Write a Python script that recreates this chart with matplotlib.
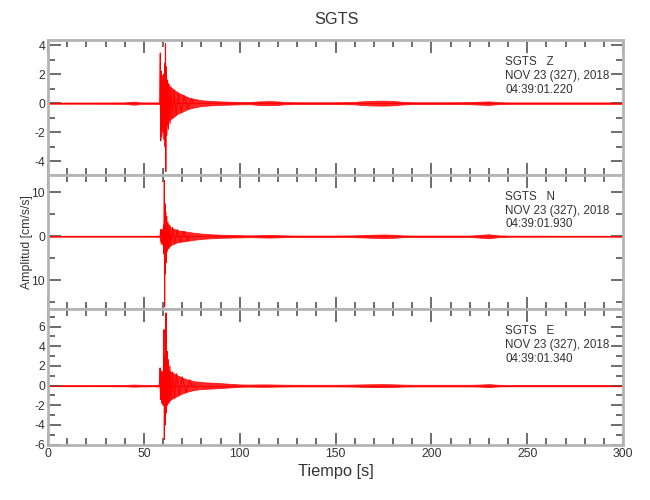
import matplotlib
matplotlib.use('Agg')
import matplotlib.pyplot as plt
from matplotlib import font_manager
from matplotlib.ticker import MultipleLocator, FixedLocator, FixedFormatter

# narrow face if available, otherwise plain Liberation Sans at a smaller size
installed = {f.name for f in font_manager.fontManager.ttflist}
if 'Liberation Sans Narrow' in installed:
    plt.rcParams['font.family'] = ['Liberation Sans Narrow', 'DejaVu Sans']
    fs = 1.0
else:
    plt.rcParams['font.family'] = ['Liberation Sans', 'DejaVu Sans']
    fs = 0.84
plt.rcParams['axes.unicode_minus'] = False

station = 'SGTS'
components = ['Z', 'N', 'E']
date_line = 'NOV 23 (327), 2018'
start_times = ['04:39:01.220', '04:39:01.930', '04:39:01.340']

# background / coda envelope (half amplitude)
env_t = [0, 20, 40, 44, 46, 48, 55, 58.3, 58.5, 60, 61, 62, 63, 64, 66, 68, 70,
         73, 76, 80, 85, 90, 95, 100, 105, 108, 110, 115, 120, 123, 130, 150,
         160, 163, 170, 175, 180, 185, 190, 210, 220, 225, 230, 235, 240, 270, 300]
env_z = [0.04, 0.04, 0.05, 0.1, 0.1, 0.05, 0.05, 0.05, 1.8, 2.0, 1.8, 1.5, 1.2, 1.1, 0.9, 0.7, 0.6,
         0.4, 0.3, 0.2, 0.15, 0.12, 0.1, 0.08, 0.07, 0.1, 0.12, 0.14, 0.12, 0.08, 0.06, 0.06,
         0.08, 0.12, 0.16, 0.17, 0.15, 0.09, 0.06, 0.06, 0.07, 0.1, 0.12, 0.07, 0.05, 0.05, 0.05]
env_n = [0.1, 0.1, 0.1, 0.1, 0.1, 0.1, 0.1, 0.15, 1.0, 1.5, 3.5, 3.0, 2.5, 2.0, 1.6, 1.3, 1.2,
         1.0, 0.8, 0.6, 0.45, 0.35, 0.3, 0.25, 0.2, 0.22, 0.25, 0.3, 0.25, 0.2, 0.15, 0.15,
         0.2, 0.25, 0.35, 0.4, 0.35, 0.2, 0.15, 0.15, 0.15, 0.3, 0.45, 0.2, 0.12, 0.1, 0.1]
env_e = [0.05, 0.05, 0.06, 0.1, 0.1, 0.08, 0.06, 0.1, 1.2, 1.5, 2.0, 1.8, 1.6, 1.4, 1.2, 1.0, 0.8,
         0.6, 0.45, 0.35, 0.3, 0.25, 0.18, 0.12, 0.1, 0.11, 0.12, 0.12, 0.1, 0.09, 0.08, 0.08,
         0.1, 0.12, 0.14, 0.15, 0.13, 0.1, 0.08, 0.08, 0.08, 0.1, 0.15, 0.08, 0.06, 0.06, 0.06]

# individual peaks around the onset
spk_t_z = [58.3, 58.6, 58.8, 59.0, 59.3, 59.6, 60.0, 60.4, 60.6, 60.9, 61.1, 61.3, 61.45,
           61.7, 62.0, 62.4, 62.8, 63.2, 63.7, 64.2, 65.0, 65.8, 66.8, 68.0, 69.5, 71.0, 73.0, 75.0, 76.0]
spk_v_z = [0, 3.45, -2.6, 2.2, -2.3, 1.8, -1.9, 2.0, -2.5, 2.75, -3.0, 4.1, -4.7,
           2.5, -2.2, 1.6, -1.8, 1.3, -1.4, 1.1, -1.0, 0.9, -0.8, 0.7, -0.6, 0.5, -0.4, 0.3, 0]
spk_t_n = [58.5, 58.8, 59.1, 59.5, 59.9, 60.3, 60.5, 60.7, 60.85, 61.0, 61.2, 61.4, 61.6,
           61.9, 62.2, 62.6, 63.0, 63.5, 64.0, 65.0, 66.0, 67.5, 69.0, 71.0, 73.0, 74.0]
spk_v_n = [0, 1.5, -1.8, 1.6, -2.0, 2.5, -4.0, 12.7, -16.0, 7.4, -8.5, 5.5, -6.0,
           4.5, -3.5, 3.2, -2.8, 2.5, -2.2, 2.0, -1.7, 1.5, -1.3, 1.1, -1.0, 0]
spk_t_e = [58.3, 58.5, 58.7, 59.0, 59.3, 59.7, 60.1, 60.5, 60.7, 61.0, 61.2, 61.6, 61.8,
           62.1, 62.4, 62.8, 63.2, 63.6, 64.2, 65.0, 66.0, 67.0, 68.5, 70.0, 72.0, 74.0, 75.0]
spk_v_e = [0, 1.8, -1.4, 1.5, -1.8, 1.4, -2.0, 5.7, -5.5, 3.0, -4.0, 7.4, -2.8,
           3.5, -2.0, 2.65, -1.8, 2.0, -1.5, 1.4, -1.3, 1.2, -1.0, 0.9, -0.7, 0.6, 0]

envelopes = [env_z, env_n, env_e]
spikes = [(spk_t_z, spk_v_z), (spk_t_n, spk_v_n), (spk_t_e, spk_v_e)]
ylims = [(-4.95, 4.35), (-16.5, 13.9), (-6.05, 7.8)]
yticks = [[-4, -2, 0, 2, 4], [-10, 0, 10], [-6, -4, -2, 0, 2, 4, 6]]
ytick_labels = [['-4', '-2', '0', '2', '4'], ['10', '0', '10'],
                ['-6', '-4', '-2', '0', '2', '4', '6']]
yminor = [1, 5, 1]

frame_c = '#b4b4b4'
tick_c = '#555555'
text_c = '#333333'

fig = plt.figure(figsize=(6.5, 5), dpi=100)
tops = [40, 175, 309]
bottoms = [175, 309, 445]
axes = []
for i in range(3):
    ax = fig.add_axes([48 / 650, 1 - bottoms[i] / 500, 575 / 650, (bottoms[i] - tops[i]) / 500])
    axes.append(ax)
    env = envelopes[i]
    ax.fill_between(env_t, [-v for v in env], env, color='red', alpha=0.85, lw=0.6)
    ax.plot(env_t, [0] * len(env_t), color='red', lw=0.8)
    ax.plot(spikes[i][0], spikes[i][1], color='red', lw=0.8)
    ax.set_xlim(0, 300)
    ax.set_ylim(*ylims[i])
    ax.yaxis.set_major_locator(FixedLocator(yticks[i]))
    ax.yaxis.set_major_formatter(FixedFormatter(ytick_labels[i]))
    ax.yaxis.set_minor_locator(MultipleLocator(yminor[i]))
    ax.xaxis.set_major_locator(MultipleLocator(50))
    ax.xaxis.set_minor_locator(MultipleLocator(10))
    ax.tick_params(which='both', direction='in', top=True, right=True,
                   color=tick_c, labelcolor=text_c, labelsize=10.5 * fs, width=1.2)
    ax.tick_params(which='major', length=9, pad=2)
    ax.tick_params(which='minor', length=5)
    for s in ax.spines.values():
        s.set_color(frame_c)
        s.set_linewidth(2)
    if i < 2:
        ax.tick_params(labelbottom=False)
    ax.text(457 / 575, 1 - 16 / 135, f'{station}   {components[i]}\n{date_line}\n{start_times[i]}',
            transform=ax.transAxes, ha='left', va='top', fontsize=10 * fs,
            color=text_c, linespacing=1.2)

axes[2].set_xlabel('Tiempo [s]', fontsize=14 * fs, color=text_c, labelpad=3)
fig.text(27 / 650, 1 - 242 / 500, 'Amplitud [cm/s/s]', rotation=90, ha='center', va='center',
         fontsize=10.5 * fs, color=text_c)
fig.text(337 / 650, 1 - 20 / 500, station, ha='center', va='center', fontsize=14 * fs, color=text_c)

fig.savefig('out.png', dpi=100)
